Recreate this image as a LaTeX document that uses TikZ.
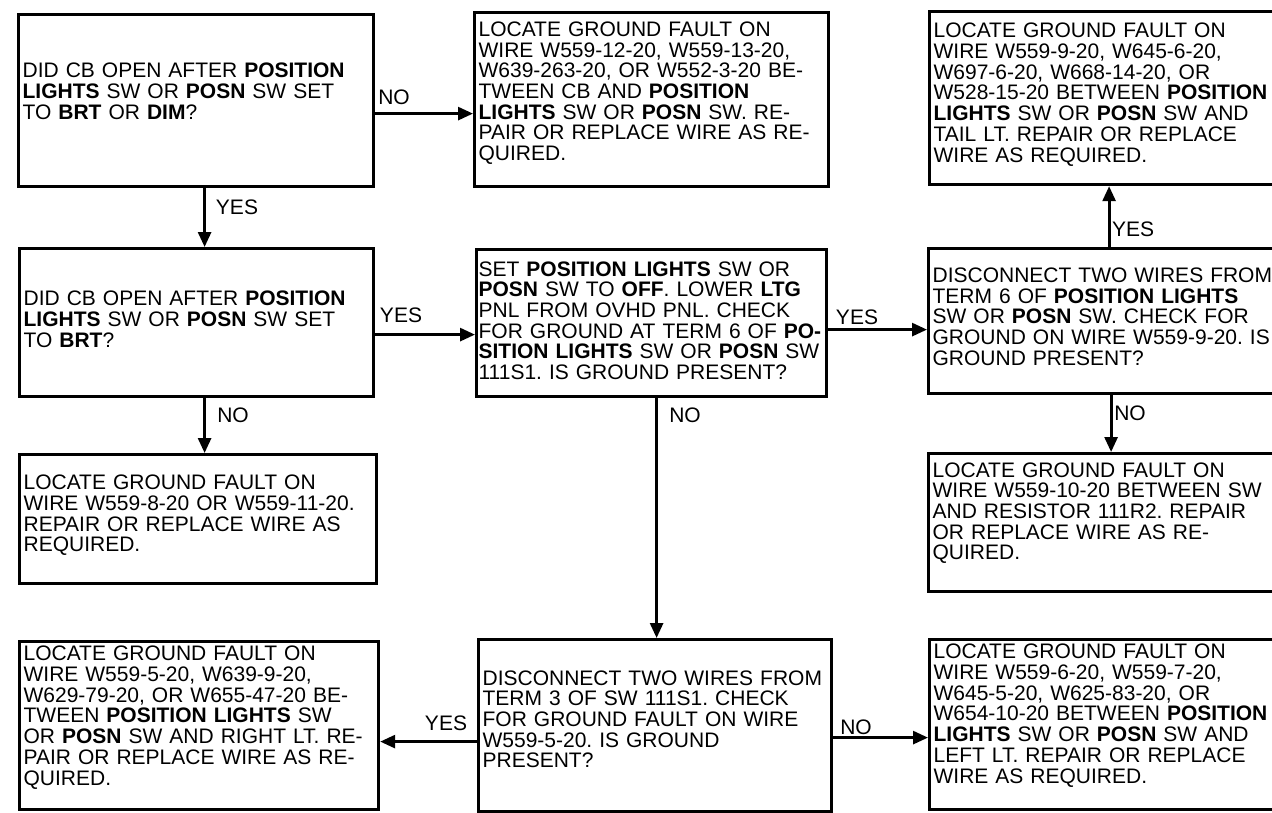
\documentclass[tikz,border=0pt]{standalone}
\usepackage{fontspec}
\setmainfont{Liberation Sans}
\usetikzlibrary{arrows.meta}
\newcommand\chartfont{\fontsize{21}{20.7}\selectfont\frenchspacing}
\begin{document}
\begin{tikzpicture}[x=1pt, y=-1pt,
    box/.style n args={3}{draw, line width=3.2pt, anchor=north west, align=left,
        font=\chartfont, inner xsep=4pt, inner ysep=0pt,
        text width=#1pt, minimum height=#2pt, text depth=#3pt},
    arr/.style={line width=2.8pt, -{Triangle[length=15pt, width=13pt]}},
    lbl/.style={font=\chartfont, inner sep=0pt}]
    \useasboundingbox (0,0) rectangle (1272,812);
    % first column
    \node[box={347}{172}{60.4}] (qDim) at (17,13) {DID CB OPEN AFTER \textbf{POSITION}\\
        \textbf{LIGHTS} SW OR \textbf{POSN} SW SET\\ TO \textbf{BRT} OR \textbf{DIM}?};
    \node[box={346}{148}{48.4}] (qBrt) at (18,247) {DID CB OPEN AFTER \textbf{POSITION}\\
        \textbf{LIGHTS} SW OR \textbf{POSN} SW SET\\ TO \textbf{BRT}?};
    \node[box={349}{129}{73.1}] (fW8) at (18,453) {LOCATE GROUND FAULT ON\\
        WIRE W559-8-20 OR W559-11-20.\\ REPAIR OR REPLACE WIRE AS\\ REQUIRED.};
    \node[box={351}{168}{144.2}] (fRight) at (18,640) {LOCATE GROUND FAULT ON\\
        WIRE W559-5-20, W639-9-20,\\ W629-79-20, OR W655-47-20 BE-\\
        TWEEN \textbf{POSITION LIGHTS} SW\\ OR \textbf{POSN} SW AND RIGHT LT. RE-\\
        PAIR OR REPLACE WIRE AS RE-\\ QUIRED.};
    % second column
    \node[box={346}{174}{141.2}] (fCb) at (473,11) {LOCATE GROUND FAULT ON\\
        WIRE W559-12-20, W559-13-20,\\ W639-263-20, OR W552-3-20 BE-\\
        TWEEN CB AND \textbf{POSITION}\\ \textbf{LIGHTS} SW OR \textbf{POSN} SW. RE-\\
        PAIR OR REPLACE WIRE AS RE-\\ QUIRED.};
    \node[box={346}{147}{108.5}, inner xsep=2pt] (qTerm6) at (475,248) {SET \textbf{POSITION LIGHTS} SW OR\\
        \textbf{POSN} SW TO \textbf{OFF}. LOWER \textbf{LTG}\\ PNL FROM OVHD PNL. CHECK\\
        FOR GROUND AT TERM 6 OF \textbf{PO-}\\ \textbf{SITION LIGHTS} SW OR \textbf{POSN} SW\\
        111S1. IS GROUND PRESENT?};
    \node[box={345}{172}{95.8}] (qTerm3) at (477,638) {DISCONNECT TWO WIRES FROM\\
        TERM 3 OF SW 111S1. CHECK\\ FOR GROUND FAULT ON WIRE\\
        W559-5-20. IS GROUND\\ PRESENT?};
    % third column, cut by the right edge
    \node[box={354}{173}{135.2}] (fTail) at (928,10) {LOCATE GROUND FAULT ON\\
        WIRE W559-9-20, W645-6-20,\\ W697-6-20, W668-14-20, OR\\
        W528-15-20 BETWEEN \textbf{POSITION}\\ \textbf{LIGHTS} SW OR \textbf{POSN} SW AND\\
        TAIL LT. REPAIR OR REPLACE\\ WIRE AS REQUIRED.};
    \node[box={355}{145}{91.8}] (qWire) at (927,247) {DISCONNECT TWO WIRES FROM\\
        TERM 6 OF \textbf{POSITION LIGHTS}\\ SW OR \textbf{POSN} SW. CHECK FOR\\
        GROUND ON WIRE W559-9-20. IS\\ GROUND PRESENT?};
    \node[box={355}{138}{105.8}] (fRes) at (927,452) {LOCATE GROUND FAULT ON\\
        WIRE W559-10-20 BETWEEN SW\\ AND RESISTOR 111R2. REPAIR\\
        OR REPLACE WIRE AS RE-\\ QUIRED.};
    \node[box={354}{170}{146.2}] (fLeft) at (928,638) {LOCATE GROUND FAULT ON\\
        WIRE W559-6-20, W559-7-20,\\ W645-5-20, W625-83-20, OR\\
        W654-10-20 BETWEEN \textbf{POSITION}\\ \textbf{LIGHTS} SW OR \textbf{POSN} SW AND\\
        LEFT LT. REPAIR OR REPLACE\\ WIRE AS REQUIRED.};
    % connectors
    \draw[arr] ([yshift=-13pt]qDim.east) coordinate (s1) -- (s1 -| fCb.west);
    \draw[arr] ([xshift=8.5pt]qDim.south) coordinate (s2) -- (s2 |- qBrt.north);
    \draw[arr] ([yshift=-12pt]qBrt.east) coordinate (s3) -- (s3 -| qTerm6.west);
    \draw[arr] ([xshift=8pt]qBrt.south) coordinate (s4) -- (s4 |- fW8.north);
    \draw[arr] ([yshift=-6.5pt]qTerm6.east) coordinate (s5) -- (s5 -| qWire.west);
    \draw[arr] ([xshift=5pt]qTerm6.south) coordinate (s6) -- (s6 |- qTerm3.north);
    \draw[arr] ([xshift=-1pt]qWire.north) coordinate (s7) -- (s7 |- fTail.south);
    \draw[arr] ([xshift=1pt]qWire.south) coordinate (s8) -- (s8 |- fRes.north);
    \draw[arr] ([yshift=-16pt]qTerm3.west) coordinate (s9) -- (s9 -| fRight.east);
    \draw[arr] ([yshift=-12pt]qTerm3.east) coordinate (s10) -- (s10 -| fLeft.west);
    % yes / no labels
    \node[lbl] (lNoDim) at (394,97) {NO};
    \node[lbl] (lYesDim) at (237,207) {YES};
    \node[lbl] (lYesBrt) at (401,315) {YES};
    \node[lbl] (lNoBrt) at (233,415) {NO};
    \node[lbl] (lYesT6) at (857,317) {YES};
    \node[lbl] (lNoT6) at (685,415) {NO};
    \node[lbl] (lYesW) at (1133,229) {YES};
    \node[lbl] (lNoW) at (1130,413) {NO};
    \node[lbl] (lYesT3) at (446,723) {YES};
    \node[lbl] (lNoT3) at (856,727) {NO};
\end{tikzpicture}
\end{document}
